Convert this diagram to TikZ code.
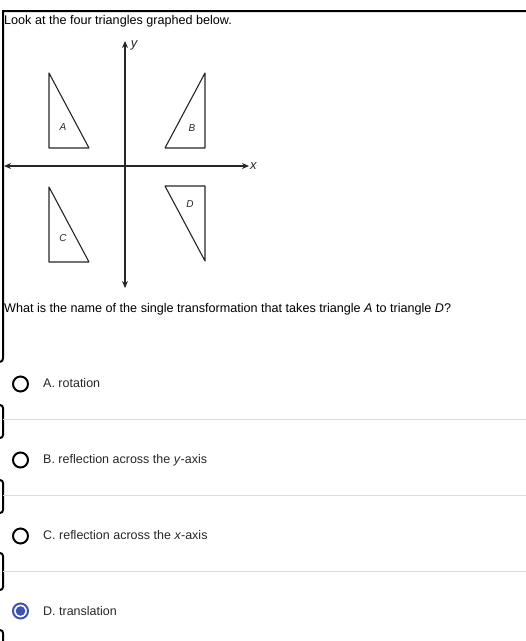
\documentclass[tikz,border=0pt]{standalone}
\usepackage{fontspec}
\setmainfont{Liberation Sans}
\usetikzlibrary{positioning,arrows.meta}
\definecolor{radioblue}{RGB}{63,81,181}

\begin{document}
\begin{tikzpicture}[x=1pt,y=-1pt,>={Stealth[length=7pt,width=6pt]},
  axis/.style={line width=1.4pt, draw=black!85},
  tri/.style={draw=black!85, line width=1.1pt, line join=round},
  trilbl/.style={font=\fontsize{10}{11}\selectfont\itshape, inner sep=0pt, text=black!85},
  axlbl/.style={font=\fontsize{13}{13}\selectfont\itshape, inner sep=0pt, text=black!85},
  txt/.style={anchor=base west, inner sep=0pt, font=\fontsize{12.6}{15}\selectfont},
  opt/.style={anchor=base west, inner sep=0pt, font=\fontsize{12.5}{14}\selectfont, text=black!85},
  radio/.style={circle, draw, line width=2pt, minimum size=15pt, inner sep=0pt},
  sep/.style={draw=black!14, line width=0.8pt},
  frame/.style={line width=2pt}]
  \useasboundingbox (0,0) rectangle (526,641);

  % frame pieces
  \draw[frame] (527,11) -- (3,11) -- (3,358) to[out=-90,in=0] (0,362);
  \foreach \t/\b in {405/438, 480/513, 553/590}
    \draw[frame] (0,\t) to[out=0,in=90] (3,\t+3) -- (3,\b-3) to[out=-90,in=0] (0,\b);
  \draw[frame] (0,630) to[out=0,in=90] (3,633) -- (3,643);

  \node[txt] (intro) at (4,24) {Look at the four triangles graphed below.};

  % axes
  \coordinate (xl) at (4,166);
  \coordinate (xr) at (249,166);
  \coordinate (yt) at (125,41);
  \coordinate (yb) at (125,288);
  \draw[axis,<->] (xl) -- (xr);
  \draw[axis,<->] (yb) -- (yt);
  \node[axlbl, right=1pt of xr] (xlab) {x};
  \node[axlbl] (ylab) at (134,45) {y};

  % triangles
  \coordinate (A1) at (49,73);   \coordinate (A2) at (49,148);  \coordinate (A3) at (89,148);
  \coordinate (B1) at (205,73);  \coordinate (B2) at (165,148); \coordinate (B3) at (205,148);
  \coordinate (C1) at (49,187);  \coordinate (C2) at (49,262);  \coordinate (C3) at (89,262);
  \coordinate (D1) at (165,186); \coordinate (D2) at (205,186); \coordinate (D3) at (205,261);
  \draw[tri] (A1) -- (A2) -- (A3) -- cycle;
  \draw[tri] (B1) -- (B2) -- (B3) -- cycle;
  \draw[tri] (C1) -- (C2) -- (C3) -- cycle;
  \draw[tri] (D1) -- (D2) -- (D3) -- cycle;
  \node[trilbl] (lA) at (63,127) {A};
  \node[trilbl] (lB) at (192,128) {B};
  \node[trilbl] (lC) at (63,238) {C};
  \node[trilbl] (lD) at (190,204) {D};

  \node[txt] (question) at (4,312) {What is the name of the single transformation that takes triangle \textit{A} to triangle \textit{D}?};

  % answer options
  \draw[sep] (3,419) -- (527,419);
  \draw[sep] (3,495) -- (527,495);
  \draw[sep] (3,571) -- (527,571);
  \node[radio] (rA) at (20.5,384) {};
  \node[radio] (rB) at (20.5,460) {};
  \node[radio] (rC) at (20.5,536) {};
  \node[radio, draw=radioblue] (rD) at (20.5,611) {};
  \fill[radioblue] (rD.center) circle (4.8);
  \node[opt] (oA) at (43,387) {A. rotation};
  \node[opt] (oB) at (43,463) {B. reflection across the \textit{y}-axis};
  \node[opt] (oC) at (43,539) {C. reflection across the \textit{x}-axis};
  \node[opt] (oD) at (43,615) {D. translation};
\end{tikzpicture}
\end{document}
